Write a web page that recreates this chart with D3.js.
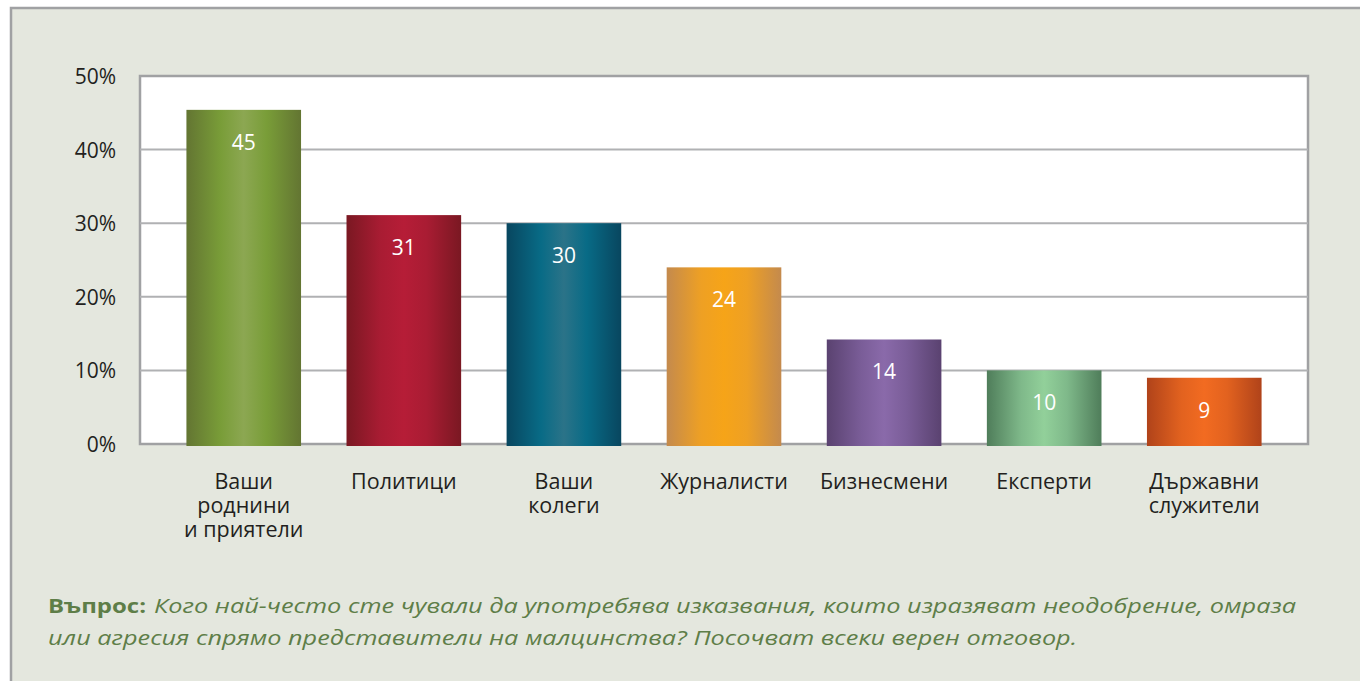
<!DOCTYPE html>
<html>
<head>
<meta charset="utf-8">
<script src="https://cdn.jsdelivr.net/npm/d3@7"></script>
<style>
  body { margin: 0; background: #ffffff; }
  svg { display: block; }
</style>
</head>
<body>
<script>
// chart data
var categories = [["Ваши", "роднини", "и приятели"], ["Политици"], ["Ваши", "колеги"],
                  ["Журналисти"], ["Бизнесмени"], ["Експерти"], ["Държавни", "служители"]];
var values = [45.4, 31.1, 30, 24, 14.2, 10, 9];
var valueLabels = ["45", "31", "30", "24", "14", "10", "9"];
var yTicks = [0, 10, 20, 30, 40, 50];
// edge colour, middle colour, highlight colour for each bar
var barEdge = ["#637532", "#7a1822", "#08465f", "#c48a4d", "#5a4270", "#4f7d5a", "#b0431a"];
var barMid  = ["#799d38", "#a91c33", "#086b86", "#eea024", "#7a5d98", "#7fb98a", "#e2621f"];
var barHigh = ["#8ca752", "#b61d37", "#2b7388", "#f6a418", "#8a6aaa", "#92d09a", "#f26b21"];
var questionBold = "Въпрос:";
var questionLine1 = "Кого най-често сте чували да употребява изказвания, които изразяват неодобрение, омраза";
var questionLine2 = "или агресия спрямо представители на малцинства? Посочват всеки верен отговор.";

var width = 1360, height = 681;
var plot = {left: 140, top: 76, right: 1308, bottom: 444};

var svg = d3.select("body").append("svg")
            .attr("width", width)
            .attr("height", height);

// outer panel
svg.append("rect")
   .attr("x", 11).attr("y", 8)
   .attr("width", 1400).attr("height", 700)
   .attr("fill", "#e4e7de")
   .attr("stroke", "#a0a1a3")
   .attr("stroke-width", 2.5);

var x = d3.scaleBand()
          .domain(d3.range(values.length))
          .range([plot.left, plot.right])
          .paddingInner(0.284)
          .paddingOuter(0.29);

var y = d3.scaleLinear()
          .domain([0, 50])
          .range([plot.bottom, plot.top]);

// gradients
var defs = svg.append("defs");
values.forEach(function(d, i) {
  var g = defs.append("linearGradient")
              .attr("id", "bar" + i)
              .attr("x1", "0%").attr("x2", "100%")
              .attr("y1", "0%").attr("y2", "0%");
  [[0, barEdge[i]], [0.3, barMid[i]], [0.5, barHigh[i]], [0.7, barMid[i]], [1, barEdge[i]]]
    .forEach(function(s) {
      g.append("stop").attr("offset", s[0]).attr("stop-color", s[1]);
    });
});

// plot area
svg.append("rect")
   .attr("x", plot.left).attr("y", plot.top)
   .attr("width", plot.right - plot.left)
   .attr("height", plot.bottom - plot.top)
   .attr("fill", "#ffffff")
   .attr("stroke", "#a0a1a3")
   .attr("stroke-width", 2.5);

// gridlines
svg.selectAll(".grid")
   .data(yTicks.slice(1, -1))
   .enter()
   .append("line")
   .attr("x1", plot.left).attr("x2", plot.right)
   .attr("y1", function(d) { return y(d); })
   .attr("y2", function(d) { return y(d); })
   .attr("stroke", "#b0b1b3")
   .attr("stroke-width", 2);

// y axis labels
svg.selectAll(".ytick")
   .data(yTicks)
   .enter()
   .append("text")
   .attr("x", 116)
   .attr("y", function(d) { return y(d) + 8; })
   .attr("text-anchor", "end")
   .style("font-family", "'Open Sans', sans-serif")
   .style("font-size", "21px")
   .style("fill", "#231f20")
   .text(function(d) { return d + "%"; });

// bars
svg.selectAll(".bar")
   .data(values)
   .enter()
   .append("rect")
   .attr("x", function(d, i) { return x(i); })
   .attr("y", function(d) { return y(d); })
   .attr("width", x.bandwidth())
   .attr("height", function(d) { return y(0) - y(d) + 2; })
   .style("fill", function(d, i) { return "url(#bar" + i + ")"; });

// value labels
svg.selectAll(".val")
   .data(values)
   .enter()
   .append("text")
   .attr("x", function(d, i) { return x(i) + x.bandwidth() / 2; })
   .attr("y", function(d) { return y(d) + 40; })
   .attr("text-anchor", "middle")
   .style("font-family", "'Open Sans', sans-serif")
   .style("font-size", "21px")
   .style("fill", "#ffffff")
   .text(function(d, i) { return valueLabels[i]; });

// category labels
var cats = svg.selectAll(".cat")
              .data(categories)
              .enter()
              .append("text")
              .attr("text-anchor", "middle")
              .style("font-family", "'Open Sans', sans-serif")
              .style("font-size", "21.5px")
              .style("fill", "#231f20");

cats.selectAll("tspan")
    .data(function(d, i) { return d.map(function(t) { return {t: t, i: i}; }); })
    .enter()
    .append("tspan")
    .attr("x", function(d) { return x(d.i) + x.bandwidth() / 2; })
    .attr("y", function(d, j) { return 489 + j * 24; })
    .text(function(d) { return d.t; });

// question text
svg.append("text")
   .attr("x", 48).attr("y", 613)
   .style("font-family", "'Open Sans', sans-serif")
   .style("font-size", "20px")
   .style("font-weight", "bold")
   .style("fill", "#5e7e48")
   .attr("textLength", 98)
   .attr("lengthAdjust", "spacingAndGlyphs")
   .text(questionBold);

svg.append("text")
   .attr("x", 154).attr("y", 613)
   .style("font-family", "'Open Sans', sans-serif")
   .style("font-size", "20px")
   .style("font-style", "italic")
   .style("fill", "#5e7e48")
   .attr("textLength", 1142)
   .attr("lengthAdjust", "spacingAndGlyphs")
   .text(questionLine1);

svg.append("text")
   .attr("x", 48).attr("y", 645)
   .style("font-family", "'Open Sans', sans-serif")
   .style("font-size", "20px")
   .style("font-style", "italic")
   .style("fill", "#5e7e48")
   .attr("textLength", 1029)
   .attr("lengthAdjust", "spacingAndGlyphs")
   .text(questionLine2);
</script>
</body>
</html>
